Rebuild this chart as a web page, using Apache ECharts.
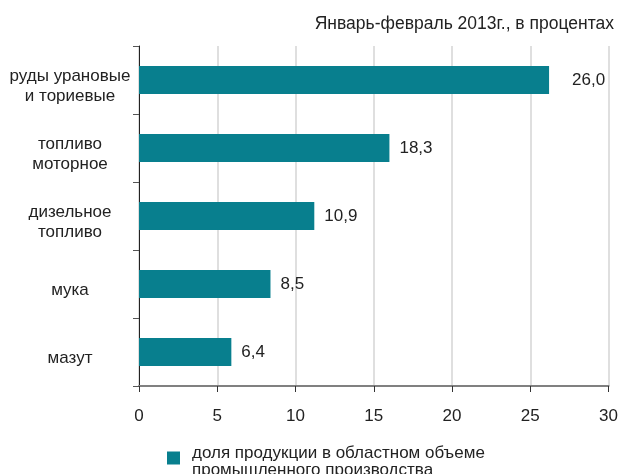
<!DOCTYPE html>
<html>
<head>
<meta charset="utf-8">
<script src="https://cdn.jsdelivr.net/npm/echarts@6/dist/echarts.min.js"></script>
<style>
html,body{margin:0;padding:0;background:#fff;}
#chart{width:621px;height:474px;}
</style>
</head>
<body>
<div id="chart"></div>
<script>
// Data
var categories = ['руды урановые\nи ториевые', 'топливо\nмоторное', 'дизельное\nтопливо', 'мука', 'мазут'];
// bar lengths as drawn in the reference (measured against the x axis)
var barLengths = [26.2, 16.0, 11.2, 8.4, 5.9];
// value labels printed next to the bars
var valueLabels = ['26,0', '18,3', '10,9', '8,5', '6,4'];
var xTicks = [0, 5, 10, 15, 20, 25, 30];
var seriesName = 'доля продукции в областном объеме\nпромышленного производства';
var titleText = 'Январь-февраль 2013г., в процентах';

var FONT = '"Liberation Sans", Arial, sans-serif';
var TXT = '#222';
var FS = 17;

var chart = echarts.init(document.getElementById('chart'), null, {renderer: 'canvas'});

var seriesData = barLengths.map(function (v, i) {
  var item = {value: v};
  if (i === 0) { item.label = {distance: 23}; }
  return item;
});

function richLines(v, spacer) {
  return '{s|}\n' + v.split('\n').map(function (l) { return '{a|' + l + '}'; }).join('\n');
}

chart.setOption({
  animation: false,
  backgroundColor: '#fff',
  title: {
    text: titleText,
    right: 2,
    top: 10,
    textStyle: {fontFamily: FONT, fontSize: 17.5, fontWeight: 'normal', color: TXT}
  },
  grid: {left: 139, right: 10, top: 46, bottom: 88, containLabel: false},
  xAxis: {
    type: 'value',
    min: xTicks[0],
    max: xTicks[xTicks.length - 1],
    interval: xTicks[1] - xTicks[0],
    axisLine: {show: true, lineStyle: {color: '#808080', width: 2}},
    axisTick: {show: true, length: 6, lineStyle: {color: '#333', width: 1}},
    axisLabel: {fontFamily: FONT, fontSize: FS, color: TXT, margin: 22},
    splitLine: {show: true, lineStyle: {color: '#d4d4d4', width: 1.5}}
  },
  yAxis: {
    type: 'category',
    data: categories,
    inverse: true,
    axisLine: {show: true, lineStyle: {color: '#222', width: 1}},
    axisTick: {show: true, length: 6, lineStyle: {color: '#555', width: 1}},
    axisLabel: {
      interval: 0,
      fontFamily: FONT, fontSize: FS, color: TXT,
      align: 'center', verticalAlign: 'middle', margin: 69,
      formatter: function (v) { return richLines(v); },
      rich: {
        s: {lineHeight: 13, height: 13, fontSize: 1},
        a: {fontFamily: FONT, fontSize: FS, color: TXT, lineHeight: 20, align: 'center'}
      }
    },
    splitLine: {show: false}
  },
  legend: {
    left: 162,
    top: 432,
    icon: 'rect',
    itemWidth: 13,
    itemHeight: 13,
    formatter: function (name) { return richLines(name); },
    textStyle: {
      fontFamily: FONT, fontSize: FS, color: TXT, padding: [0, 0, 0, 7],
      rich: {
        s: {lineHeight: 8, height: 8, fontSize: 1},
        a: {fontFamily: FONT, fontSize: FS, color: TXT, lineHeight: 17}
      }
    },
    data: [seriesName]
  },
  series: [{
    name: seriesName,
    type: 'bar',
    data: seriesData,
    barWidth: 28,
    itemStyle: {color: '#087f8e'},
    label: {
      show: true,
      position: 'right',
      distance: 10,
      fontFamily: FONT,
      fontSize: FS,
      color: TXT,
      formatter: function (p) { return valueLabels[p.dataIndex]; }
    }
  }]
});
</script>
</body>
</html>
